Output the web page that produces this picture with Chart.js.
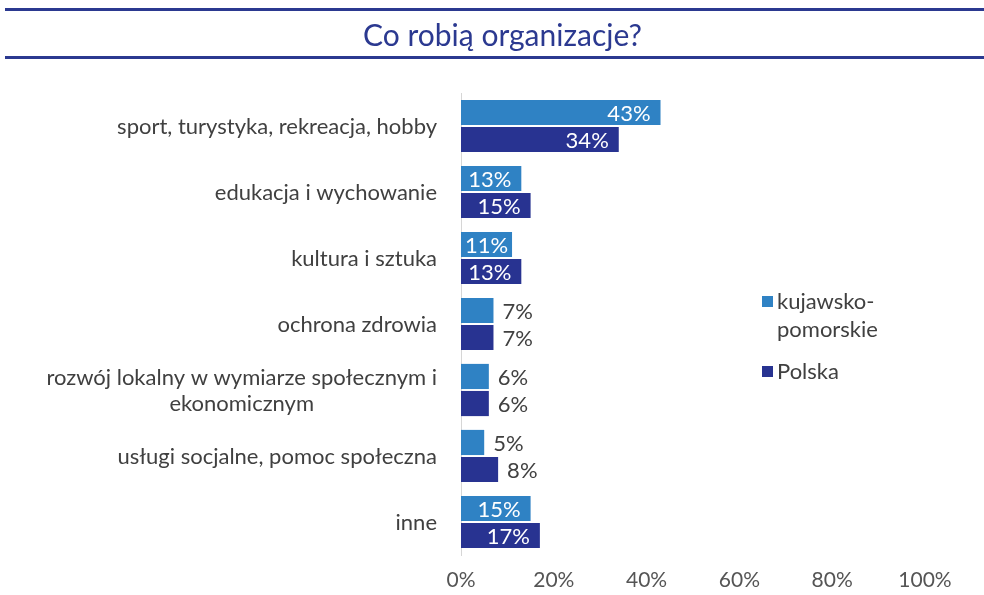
<!DOCTYPE html>
<html>
<head>
<meta charset="utf-8">
<script src="https://cdn.jsdelivr.net/npm/chart.js@4.4.1/dist/chart.umd.min.js"></script>
<style>
  html, body { margin: 0; padding: 0; background: #fff; }
  .wrap { position: relative; width: 984px; height: 595px; }
  .head {
    position: absolute; left: 5px; right: 0; top: 8px; height: 45px;
    padding-left: 16px;
    border-top: 3px solid #2b3990; border-bottom: 3px solid #2b3990;
    text-align: center; font: 30px Lato, sans-serif; color: #2b3990;
    line-height: 47px;
  }
  canvas { position: absolute; left: 0; top: 0; }
</style>
</head>
<body>
<div class="wrap">
  <canvas id="myChart" width="984" height="595"></canvas>
  <div class="head">Co robią organizacje?</div>
</div>
<script>
const categories = [
  'sport, turystyka, rekreacja, hobby',
  'edukacja i wychowanie',
  'kultura i sztuka',
  'ochrona zdrowia',
  ['rozwój lokalny w wymiarze społecznym i', 'ekonomicznym'],
  'usługi socjalne, pomoc społeczna',
  'inne'
]
const kujawsko = [43, 13, 11, 7, 6, 5, 15]
const polska = [34, 15, 13, 7, 6, 8, 17]
const xTicks = ['0%', '20%', '40%', '60%', '80%', '100%']

const lightBlue = '#2f82c4'
const navy = '#283391'
const FONT = 'Lato, sans-serif'

// y labels: right aligned, extra lines centered under the first one
const yLabels = {
  id: 'yLabels',
  afterDraw(chart) {
    const ctx = chart.ctx
    const y = chart.scales.y
    ctx.save()
    ctx.font = '22px ' + FONT
    ctx.fillStyle = '#404040'
    ctx.textAlign = 'center'
    ctx.textBaseline = 'middle'
    categories.forEach((lab, i) => {
      let lines = Array.isArray(lab) ? lab : [lab]
      let w = Math.max(...lines.map(l => ctx.measureText(l).width))
      let cy = y.getPixelForTick(i)
      lines.forEach((l, j) => {
        ctx.fillText(l, 437 - w / 2, cy + 1 + (j - (lines.length - 1) / 2) * 26)
      })
    })
    ctx.restore()
  }
}

// value labels, inside end on long bars, outside on short ones
const valLabels = {
  id: 'valLabels',
  afterDatasetsDraw(chart) {
    const ctx = chart.ctx
    ctx.save()
    ctx.font = '22px ' + FONT
    ctx.textBaseline = 'middle'
    chart.data.datasets.forEach((ds, di) => {
      chart.getDatasetMeta(di).data.forEach((bar, i) => {
        let txt = ds.data[i] + '%'
        let tw = ctx.measureText(txt).width
        let len = bar.x - bar.base
        ctx.textAlign = 'left'
        if (len > 45) {
          ctx.fillStyle = '#fff'
          let x = Math.max(bar.base + 4, bar.x - 10 - tw)
          ctx.fillText(txt, x, bar.y + 1)
        } else {
          ctx.fillStyle = '#404040'
          ctx.fillText(txt, bar.x + 9, bar.y + 1)
        }
      })
    })
    ctx.restore()
  }
}

// legend on the right, inside the plot
const sideLegend = {
  id: 'sideLegend',
  afterDraw(chart) {
    const ctx = chart.ctx
    const pos = [[302, 330], [372]]
    ctx.save()
    ctx.font = '22px ' + FONT
    ctx.textBaseline = 'middle'
    ctx.textAlign = 'left'
    chart.data.datasets.forEach((ds, di) => {
      let ys = pos[di]
      ctx.fillStyle = ds.backgroundColor
      ctx.fillRect(762, ys[0] - 6, 11, 11)
      ctx.fillStyle = '#404040'
      let parts = ds.label.split('\n')
      parts.forEach((p, j) => ctx.fillText(p, 777, ys[j]))
    })
    ctx.restore()
  }
}

const ctx = document.getElementById('myChart')

new Chart(ctx, {
  type: 'bar',
  data: {
    labels: categories,
    datasets: [{
      label: 'kujawsko-\npomorskie',
      data: kujawsko,
      backgroundColor: lightBlue,
      categoryPercentage: 0.82,
      barPercentage: 0.93
    }, {
      label: 'Polska',
      data: polska,
      backgroundColor: navy,
      categoryPercentage: 0.82,
      barPercentage: 0.93
    }]
  },
  options: {
    indexAxis: 'y',
    responsive: false,
    animation: false,
    layout: { padding: { top: 93, right: 59, bottom: 0, left: 0 } },
    plugins: {
      legend: { display: false },
      tooltip: { enabled: false }
    },
    scales: {
      x: {
        min: 0,
        max: 100,
        grid: { display: false, drawTicks: false },
        border: { display: false },
        ticks: {
          stepSize: 20,
          padding: 13,
          color: '#555',
          font: { family: FONT, size: 21 },
          callback: (v, i) => xTicks[i]
        },
        afterFit: scale => { scale.height = 40 }
      },
      y: {
        grid: { display: false },
        border: { display: true, color: '#d6d6d6', width: 1 },
        ticks: { display: false },
        afterFit: scale => { scale.width = 461 }
      }
    }
  },
  plugins: [yLabels, valLabels, sideLegend]
})
</script>
</body>
</html>
